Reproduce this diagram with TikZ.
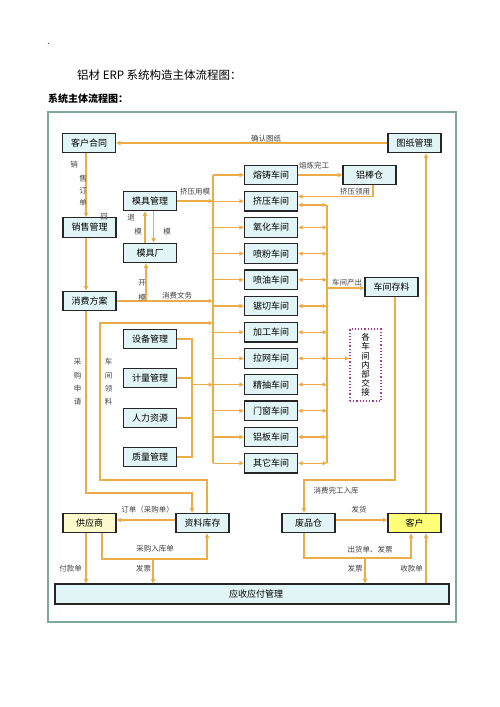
\documentclass[tikz,border=0pt]{standalone}
\usepackage{fontspec}
\setmainfont{Noto Sans CJK SC}
\usetikzlibrary{arrows.meta}
\definecolor{linec}{RGB}{236,172,72}
\definecolor{boxfill}{RGB}{226,245,246}
\definecolor{yelA}{RGB}{252,250,205}
\definecolor{yelB}{RGB}{255,255,120}
\definecolor{framec}{RGB}{125,168,155}
\definecolor{purp}{RGB}{170,55,150}
\begin{document}
\begin{tikzpicture}[x=1pt,y=-1pt,
 box/.style={draw=black!85, line width=1.2pt, fill=boxfill, minimum width=53pt, minimum height=19.5pt, inner sep=0pt, font=\fontsize{9}{9}\selectfont},
 lbl/.style={font=\fontsize{7.5}{7.5}\selectfont, text=black!75, inner sep=0pt},
 vlbl/.style={font=\fontsize{7.5}{13.4}\selectfont, text=black!75, inner sep=0pt, align=center},
 wire/.style={draw=linec, line width=1.1pt},
 conn/.style={wire, -{Triangle[length=4.5pt,width=4pt]}},
 dconn/.style={wire, {Triangle[length=4.5pt,width=4pt]}-{Triangle[length=4.5pt,width=4pt]}},
]
\useasboundingbox (0,0) rectangle (500,707);
\node[font=\fontsize{8}{8}\selectfont, inner sep=0pt] (dot) at (48.5,44) {.};
\node[anchor=west, font=\fontsize{11.5}{11.5}\selectfont, inner sep=0pt] (title) at (77,75) {铝材 ERP 系统构造主体流程图：};
\node[anchor=west, font=\bfseries\fontsize{10}{10}\selectfont, inner sep=0pt] (sub) at (48,99) {系统主体流程图：};
\draw[draw=framec, line width=1.6pt] (48,112) rectangle (456,622);

% workshops
\foreach \t [count=\i] in {熔铸车间,挤压车间,氧化车间,喷粉车间,喷油车间,锯切车间,加工车间,拉网车间,精抽车间,门窗车间,铝板车间,其它车间}
  \node[box] (w\i) at (271,{175+26.2*(\i-1)}) {\t};

\node[box] (khht) at (89,143) {客户合同};
\node[box] (tzgl) at (414.5,143) {图纸管理};
\node[box] (lbc) at (369.5,175) {铝棒仓};
\node[box] (mjgl) at (150,201) {模具管理};
\node[box] (xsgl) at (89.5,227.5) {销售管理};
\node[box] (mjc) at (150,253) {模具厂};
\node[box] (xffa) at (89.5,301) {消费方案};
\node[box] (sbgl) at (150,339) {设备管理};
\node[box] (jlgl) at (150,378) {计量管理};
\node[box] (rlzy) at (150,418) {人力资源};
\node[box] (zlgl) at (150,457) {质量管理};
\node[box] (cjcl) at (391.5,287) {车间存料};
\node[draw=purp, dotted, line width=1.2pt, fill=white, minimum width=31pt, minimum height=72pt, inner sep=0pt, align=center, font=\fontsize{8.5}{9.2}\selectfont] (jj) at (365.5,365) {各\\车\\间\\内\\部\\交\\接};
\node[box, fill=yelA] (gys) at (89.5,523) {供应商};
\node[box] (zlkc) at (202.5,523) {资料库存};
\node[box] (fpc) at (308.5,523) {废品仓};
\node[box, fill=yelB] (kh) at (414.5,523) {客户};
\node[box, minimum width=394pt, minimum height=20pt] (ysyf) at (252,594) {\hspace*{8pt}应收应付管理};

% buses
\coordinate (busL) at (213,175);
\coordinate (busR) at (327,205);
\draw[wire] (busL) -- (busL |- w12.west);
\draw[wire] (busR) -- (busR |- w12.east);
\foreach \i in {1,...,12} \draw[conn] (busL |- w\i.west) -- (w\i.west);
\draw[dconn] (w2.east |- busR) -- (busR);
\foreach \i in {3,...,12} \draw[dconn] (w\i.east) -- (busR |- w\i.east);

% top
\draw[conn] (tzgl.west) -- (khht.east);
\node[lbl] (l1) at (266,139) {确认图纸};
\draw[conn] (khht.south -| 86,0) -- (xsgl.north -| 86,0);
\node[lbl] (v1) at (74,165) {销};
\node[lbl] (v2) at (83,178.5) {售};
\node[lbl] (v3) at (83,191) {订};
\node[lbl] (v4) at (83,203) {单};
\node[lbl] (v5) at (104,217) {回};
\draw[conn] (xsgl.south -| 86,0) -- (xffa.north -| 86,0);

\draw[conn] (mjc.north -| 145,0) -- (mjgl.south -| 145,0);
\draw[conn] (mjgl.south -| 153.5,0) -- (mjc.north -| 153.5,0);
\node[lbl] (v6) at (131,218) {退};
\node[lbl] (v7) at (138,232) {模};
\node[lbl] (v8) at (167,232) {模};

\draw[conn] (mjgl.east) -- (busL |- mjgl.east);
\node[lbl] (l2) at (195,192) {挤压用模};

\draw[conn] (xffa.east) -- (busL |- xffa.east);
\node[lbl] (l3) at (177,296) {消费文务};
\draw[conn] (xffa.east -| 146,0) -- (mjc.south -| 146,0);
\node[lbl] (v9) at (142,283) {开};
\node[lbl] (v10) at (142,297.5) {模};

\draw[conn] (w1.east) -- (lbc.west);
\node[lbl] (l4) at (314,166) {熔炼完工};
\draw[conn] (lbc.south -| 373,0) |- (w2.east |- 0,196.5);
\node[lbl] (l5) at (355,191.5) {挤压领用};

% management group
\draw[wire] (sbgl.east) -| (192,457) -- (zlgl.east);
\draw[wire] (jlgl.east) -- (jlgl.east -| 192,0);
\draw[wire] (rlzy.east) -- (rlzy.east -| 192,0);
\draw[conn] (w9.west -| 192,0) -- (busL |- w9.west);

% purchase / material lines
\draw[conn] (zlkc.north -| 207,0) |- (100,480) |- (busL |- 0,323);
\node[vlbl] (l6) at (108.5,382) {车\\间\\领\\料};
\draw[conn] (xffa.south -| 86,0) |- (192,493) -- (zlkc.north -| 192,0);
\node[vlbl] (l7) at (77.5,382) {采\\购\\申\\请};

% right side
\draw[conn] (busR |- 0,288) -- (cjcl.west |- 0,288);
\node[lbl] (l8) at (347,283) {车间产出};
\draw[conn] (busR |- w8.east) -- (jj.west |- w8.east);
\draw[conn] (cjcl.south -| 395,0) |- (304,480) -- (fpc.north -| 304,0);
\node[lbl] (l9) at (336,490.5) {消费完工入库};
\draw[conn] (kh.north -| 426,0) -- (tzgl.south -| 426,0);

% bottom
\draw[conn] (zlkc.west |- 0,520) -- (gys.east |- 0,520);
\node[lbl] (l10) at (147.5,510) {订单（采购单）};
\draw[conn] (gys.south -| 102,0) |- (207,559) -- (zlkc.south -| 207,0);
\node[lbl] (l11) at (155,549) {采购入库单};
\draw[conn] (153,559) -- (ysyf.north -| 153,0);
\node[lbl] (l12) at (143.5,569) {发票};
\draw[conn] (gys.south -| 86,0) -- (ysyf.north -| 86,0);
\node[lbl] (l13) at (70.5,569) {付款单};

\draw[conn] (fpc.east |- 0,520) -- (kh.west |- 0,520);
\node[lbl] (l14) at (359,510) {发货};
\draw[conn] (fpc.south -| 304,0) |- (411,558) -- (kh.south -| 411,0);
\node[lbl] (l15) at (370,549.5) {出货单、发票};
\draw[conn] (365,558) -- (ysyf.north -| 365,0);
\node[lbl] (l16) at (355,569) {发票};
\draw[conn] (ysyf.north -| 426,0) -- (kh.south -| 426,0);
\node[lbl] (l17) at (411.5,569) {收款单};
\end{tikzpicture}
\end{document}
